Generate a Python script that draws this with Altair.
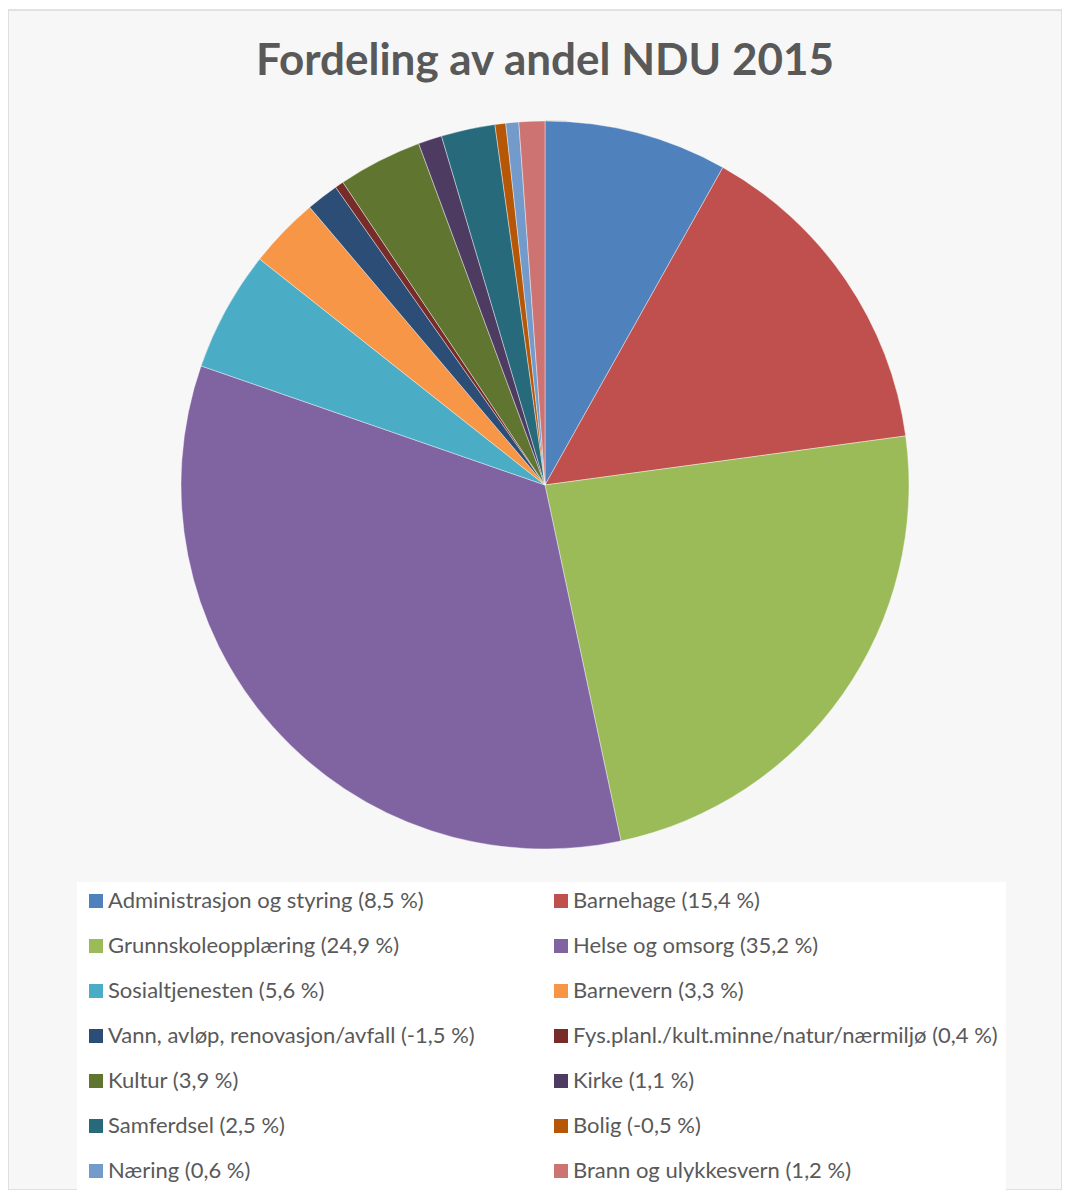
import altair as alt
import pandas as pd

categories = [
    "Administrasjon og styring", "Barnehage", "Grunnskoleopplæring", "Helse og omsorg",
    "Sosialtjenesten", "Barnevern", "Vann, avløp, renovasjon/avfall",
    "Fys.planl./kult.minne/natur/nærmiljø", "Kultur", "Kirke", "Samferdsel",
    "Bolig", "Næring", "Brann og ulykkesvern",
]
values = [8.5, 15.4, 24.9, 35.2, 5.6, 3.3, -1.5, 0.4, 3.9, 1.1, 2.5, -0.5, 0.6, 1.2]
colors = [
    "#4F81BD", "#C0504D", "#9BBB59", "#8064A2", "#4BACC6", "#F79646", "#2C4D75",
    "#772C2A", "#5F7530", "#4D3B62", "#276A7C", "#B65708", "#729ACA", "#CD7371",
]

labels = [f"{c} ({str(v).replace('.', ',')} %)" for c, v in zip(categories, values)]
df = pd.DataFrame({
    "label": labels,
    "value": values,
    "size": [abs(v) for v in values],
    "idx": list(range(len(values))),
})

CX, CY, R = 537, 475, 364
FONT = "Lato"

shadow = alt.Chart(pd.DataFrame({"s": [1]})).mark_arc(
    radius=R + 3, color="#d0d0d0", opacity=0.7
).encode(theta=alt.Theta("s:Q"), x=alt.value(CX), y=alt.value(CY + 2))

pie = alt.Chart(df).mark_arc(radius=R, stroke="white", strokeWidth=0.4).encode(
    theta=alt.Theta("size:Q", stack=True),
    order=alt.Order("idx:Q"),
    x=alt.value(CX),
    y=alt.value(CY),
    color=alt.Color(
        "label:N",
        sort=labels,
        scale=alt.Scale(domain=labels, range=colors),
        legend=alt.Legend(
            title=None,
            orient="none",
            legendX=69,
            legendY=872,
            direction="horizontal",
            columns=2,
            columnPadding=75,
            rowPadding=23,
            symbolType="square",
            symbolSize=196,
            symbolStrokeWidth=0,
            labelOffset=1,
            labelFont=FONT,
            labelFontSize=22,
            labelColor="#595959",
            labelLimit=700,
            fillColor="white",
            padding=8,
        ),
    ),
)

title = alt.Chart(pd.DataFrame({"t": ["Fordeling av andel NDU 2015"]})).mark_text(
    font=FONT, fontSize=44, fontWeight="bold", color="#595959",
    align="center", baseline="alphabetic",
).encode(text="t:N", x=alt.value(CX), y=alt.value(65))

chart = alt.layer(shadow, pie, title).properties(
    width=1054, height=1180,
    padding={"left": 0, "top": 2, "right": 0, "bottom": 0},
    autosize=alt.AutoSizeParams(type="none"),
    background="white",
).configure_view(fill="#f7f7f7", stroke="#d9d9d9", strokeWidth=1.5)

chart.save("out.html", embed_options={"renderer": "svg", "actions": False})
